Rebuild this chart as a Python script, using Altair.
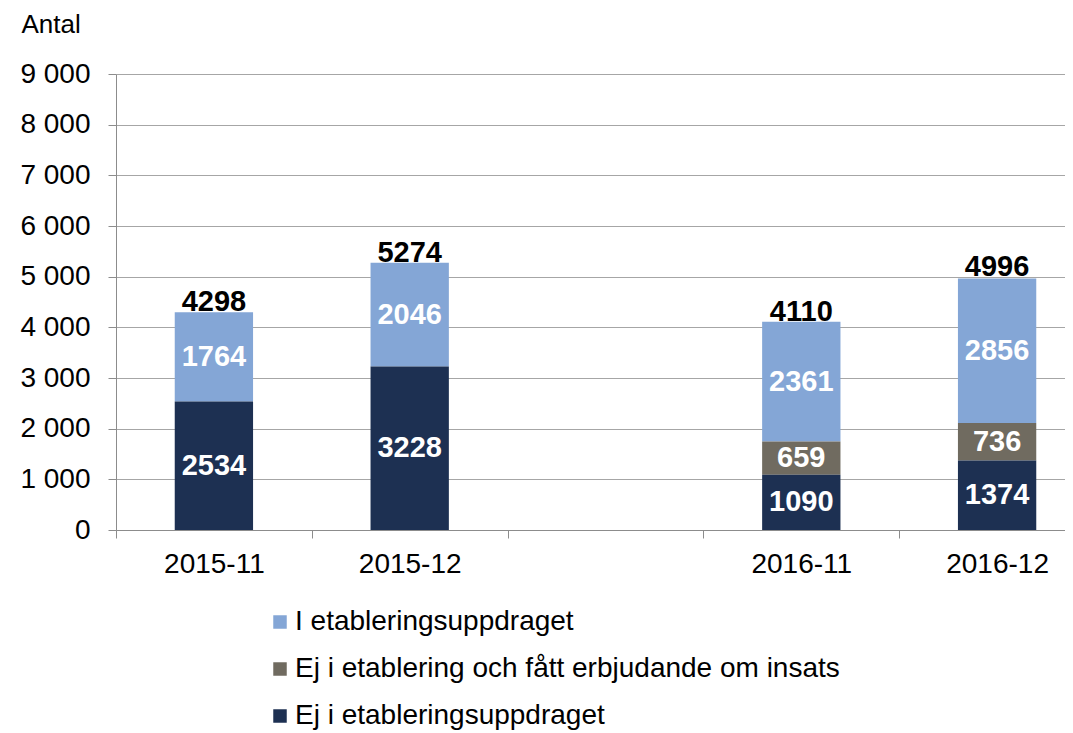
import altair as alt
import pandas as pd

# ---- data ----
months = ["2015-11", "2015-12", "2016-11", "2016-12"]
x_domain = ["2015-11", "2015-12", " ", "2016-11", "2016-12"]
series = [
    "I etableringsuppdraget",
    "Ej i etablering och fått erbjudande om insats",
    "Ej i etableringsuppdraget",
]
colors = ["#84A6D6", "#706B60", "#1D3052"]
stack_order = [2, 1, 0]  # 0 = bottom of the stack

i_etablering = [1764, 2046, 2361, 2856]
ej_etablering_erbjudande = [None, None, 659, 736]
ej_etablering = [2534, 3228, 1090, 1374]
totals = [4298, 5274, 4110, 4996]

y_ticks = [0, 1000, 2000, 3000, 4000, 5000, 6000, 7000, 8000, 9000]

rows = []
for vals, s, o in zip([i_etablering, ej_etablering_erbjudande, ej_etablering], series, stack_order):
    for m, v in zip(months, vals):
        if v is not None:
            rows.append({"month": m, "series": s, "value": v, "order": o})
df = pd.DataFrame(rows)
df_tot = pd.DataFrame({"month": months, "total": totals})

FONT = "Liberation Sans"

x_enc = alt.X(
    "month:N",
    scale=alt.Scale(domain=x_domain, range=[0, 979], paddingInner=0, paddingOuter=0),
    axis=alt.Axis(
        title=None, labelAngle=0, labelFontSize=28, labelFont=FONT, labelColor="#000000",
        labelPadding=12, tickBand="extent", tickSize=8, tickColor="#8C8C8C",
        domainColor="#8C8C8C", grid=False,
    ),
)
y_scale = alt.Scale(domain=[0, 9000], nice=False)

bars = alt.Chart(df).mark_bar(width=alt.RelativeBandSize(0.4)).encode(
    x=x_enc,
    y=alt.Y(
        "value:Q", stack="zero", scale=y_scale,
        axis=alt.Axis(
            values=y_ticks,
            labelExpr="replace(format(datum.value, ','), ',', ' ')",
            labelFontSize=28, labelFont=FONT, labelColor="#000000", labelPadding=18,
            tickSize=8, tickColor="#8C8C8C", domainColor="#8C8C8C",
            gridColor="#A6A6A6", gridWidth=1.2,
            title="Antal", titleAngle=0, titleFontSize=26, titleFont=FONT,
            titleFontWeight="normal", titleColor="#000000",
            titleX=-95, titleY=-50, titleAlign="left", titleBaseline="middle",
        ),
    ),
    color=alt.Color(
        "series:N",
        scale=alt.Scale(domain=series, range=colors),
        legend=alt.Legend(
            title=None, orient="none", direction="vertical", legendX=150, legendY=534,
            symbolType="square", symbolSize=182, symbolStrokeWidth=0,
            labelFontSize=28, labelFont=FONT, labelColor="#000000", labelOffset=1,
            labelLimit=0, rowPadding=19, padding=0,
        ),
    ),
    order=alt.Order("order:Q", sort="ascending"),
)

seg_labels = (
    alt.Chart(df)
    .transform_stack(stack="value", groupby=["month"], as_=["y0", "y1"],
                     sort=[alt.SortField("order", order="ascending")])
    .transform_calculate(mid="(datum.y0 + datum.y1) / 2")
    .mark_text(font=FONT, fontSize=29, fontWeight="bold", color="#FFFFFF", baseline="middle")
    .encode(x=alt.X("month:N", scale=alt.Scale(domain=x_domain)), y=alt.Y("mid:Q", scale=y_scale),
            text="value:Q")
)

tot_labels = alt.Chart(df_tot).mark_text(
    font=FONT, fontSize=29, fontWeight="bold", color="#000000", baseline="alphabetic", dy=-1
).encode(x=alt.X("month:N", scale=alt.Scale(domain=x_domain)), y=alt.Y("total:Q", scale=y_scale),
         text="total:Q")

chart = (
    alt.layer(bars, seg_labels, tot_labels)
    .properties(
        width=949, height=456,
        autosize=alt.AutoSizeParams(type="none"),
        padding={"left": 108, "top": 66, "right": 0, "bottom": 203},
    )
    .configure_view(stroke=None)
)

chart.save("out.html", embed_options={"renderer": "svg", "actions": False})
